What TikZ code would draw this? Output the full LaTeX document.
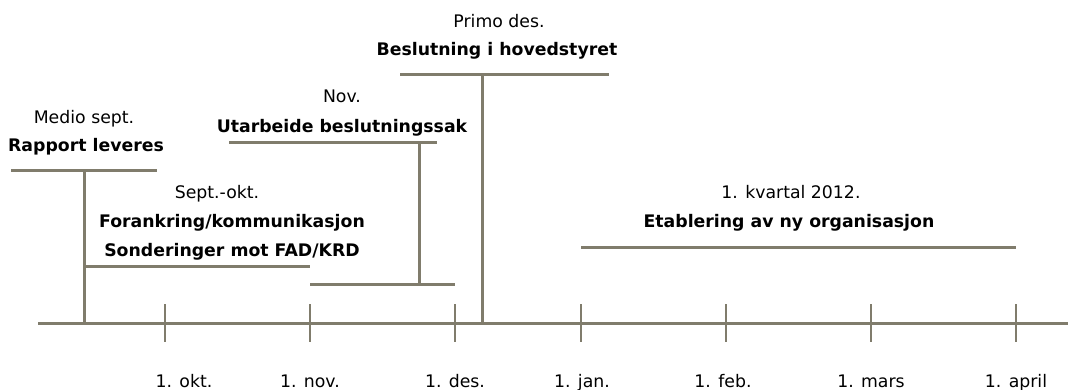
\documentclass[tikz,border=0pt]{standalone}
\usepackage{fontspec}
\setmainfont{DejaVu Sans}
\definecolor{linec}{RGB}{128,124,108}
\tikzset{
  txt/.style={inner sep=0pt, anchor=center, text height=12.5pt, text depth=3.5pt, font=\fontsize{17.3}{20}\selectfont},
  btxt/.style={txt, font=\fontsize{17.3}{20}\selectfont\bfseries},
  bar/.style={draw=linec, line width=3pt},
  tick/.style={draw=linec, line width=1.5pt},
}
\begin{document}
\begin{tikzpicture}[x=1pt,y=-1pt]
\useasboundingbox[fill=white] (0,0) rectangle (1068,390);
% axis
\coordinate (a0) at (38,323);
\coordinate (a1) at (1068,323);
\draw[bar] (a0) -- (a1);
% ticks and labels
\foreach \x/\lx/\t/\n in {165/184/1. okt./t1, 310/310/1. nov./t2, 455/455/1. des./t3, 581/582/1. jan./t4, 726/723/1. feb./t5, 871/871/1. mars/t6, 1016/1016/1. april/t7}{
  \coordinate (\n top) at (\x,304);
  \coordinate (\n bot) at (\x,342);
  \draw[tick] (\n top) -- (\n bot);
  \node[txt] (\n lab) at (\lx,383) {\t};
}
% Rapport leveres
\node[txt] (r1) at (84,119) {Medio sept.};
\node[btxt] (r2) at (86,147) {Rapport leveres};
\coordinate (rl) at (11,171); \coordinate (rr) at (157,171);
\coordinate (rv) at (84,171); \coordinate (rb) at (84,323);
\draw[bar] (rl) -- (rr);
\draw[bar] (rv) -- (rb);
% Sept.-okt.
\node[txt] (s1) at (217,194) {Sept.-okt.};
\node[btxt] (s2) at (232,223) {Forankring/kommunikasjon};
\node[btxt] (s3) at (232,252) {Sonderinger mot FAD/KRD};
\coordinate (sl) at (84,266); \coordinate (sr) at (310,266);
\draw[bar] (sl) -- (sr);
% Nov.
\node[txt] (n1) at (342,98) {Nov.};
\node[btxt] (n2) at (342,128) {Utarbeide beslutningssak};
\coordinate (nl) at (229,143); \coordinate (nr) at (437,143);
\coordinate (nv) at (419,143); \coordinate (nb) at (419,284);
\coordinate (bl) at (310,284); \coordinate (br) at (455,284);
\draw[bar] (nl) -- (nr);
\draw[bar] (nv) -- (nb);
\draw[bar] (bl) -- (br);
% Primo des.
\node[txt] (p1) at (499,23) {Primo des.};
\node[btxt] (p2) at (497,51) {Beslutning i hovedstyret};
\coordinate (pl) at (400,75); \coordinate (pr) at (609,75);
\coordinate (pv) at (482,75); \coordinate (pb) at (482,323);
\draw[bar] (pl) -- (pr);
\draw[bar] (pv) -- (pb);
% Etablering
\node[txt] (e1) at (791,194) {1. kvartal 2012.};
\node[btxt] (e2) at (789,223) {Etablering av ny organisasjon};
\coordinate (el) at (581,247); \coordinate (er) at (1016,247);
\draw[bar] (el) -- (er);
\end{tikzpicture}
\end{document}
